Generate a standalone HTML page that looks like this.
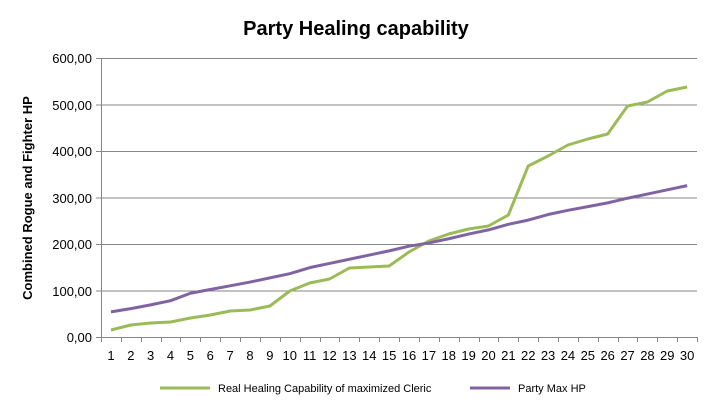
<!DOCTYPE html><html><head><style>body{margin:0;background:#fff}</style></head><body>
<svg width="712" height="409" xmlns="http://www.w3.org/2000/svg" font-family="Liberation Sans, sans-serif">
<rect width="712" height="409" fill="#fff"/>
<text x="356" y="35" text-anchor="middle" font-size="20" font-weight="bold">Party Healing capability</text>
<g stroke="#868686" stroke-width="1">
<line x1="101" y1="58.5" x2="697" y2="58.5"/><line x1="101" y1="105" x2="697" y2="105"/>
<line x1="101" y1="151.5" x2="697" y2="151.5"/><line x1="101" y1="198" x2="697" y2="198"/>
<line x1="101" y1="244.5" x2="697" y2="244.5"/><line x1="101" y1="291" x2="697" y2="291"/>
<line x1="101" y1="337.5" x2="697" y2="337.5"/><line x1="101.5" y1="58" x2="101.5" y2="338"/>
<line x1="96" y1="58.5" x2="101" y2="58.5"/><line x1="96" y1="105" x2="101" y2="105"/><line x1="96" y1="151.5" x2="101" y2="151.5"/><line x1="96" y1="198" x2="101" y2="198"/><line x1="96" y1="244.5" x2="101" y2="244.5"/><line x1="96" y1="291" x2="101" y2="291"/><line x1="96" y1="337.5" x2="101" y2="337.5"/>
</g>
<g id="ticks" stroke="#868686"></g>
<g font-size="13" text-anchor="end" fill="#000">
<text x="92" y="63">600,00</text><text x="92" y="110">500,00</text><text x="92" y="156">400,00</text><text x="92" y="203">300,00</text><text x="92" y="249">200,00</text><text x="92" y="296">100,00</text><text x="92" y="342">0,00</text>
</g>
<g id="xl" font-size="13" text-anchor="middle"></g>
<text transform="translate(32,198) rotate(-90)" text-anchor="middle" font-size="13" font-weight="bold">Combined Rogue and Fighter HP</text>
<polyline id="g" fill="none" stroke="#9BBB59" stroke-width="3" stroke-linejoin="round"/>
<polyline id="p" fill="none" stroke="#8064A2" stroke-width="3" stroke-linejoin="round"/>
<line x1="160" y1="388" x2="210" y2="388" stroke="#9BBB59" stroke-width="3"/>
<text x="218" y="392" font-size="11">Real Healing Capability  of maximized Cleric</text>
<line x1="470" y1="388" x2="510" y2="388" stroke="#8064A2" stroke-width="3"/>
<text x="518" y="392" font-size="11">Party Max HP</text>
</svg>
<script>
var G=[330,325,323,322,318,315,311,310,306,291,283,279,268,267,266,252,241,234,229,226,215,166,156,145,139,134,106,102,91,87];
var PV=[55,62,70,79,95,103,111,119,128,137,150,159,168,177,186,196,203,212,222,231,243,252,264,273,281,289,299,308,317,326];
var s=19.87,x0=101,g=[],p=[],t='',l='';
for(var i=0;i<30;i++){var x=x0+s*(i+0.5);g.push(x+','+G[i]);p.push(x+','+(337.5-PV[i]*0.4658));
l+='<text x="'+x+'" y="360">'+(i+1)+'</text>';}
for(var i=0;i<=30;i++){var x=Math.round(x0+s*i)+0.5;t+='<line x1="'+x+'" y1="337" x2="'+x+'" y2="342"/>';}
document.getElementById('g').setAttribute('points',g.join(' '));
document.getElementById('p').setAttribute('points',p.join(' '));
document.getElementById('ticks').innerHTML=t;document.getElementById('xl').innerHTML=l;
</script>
</body></html>
